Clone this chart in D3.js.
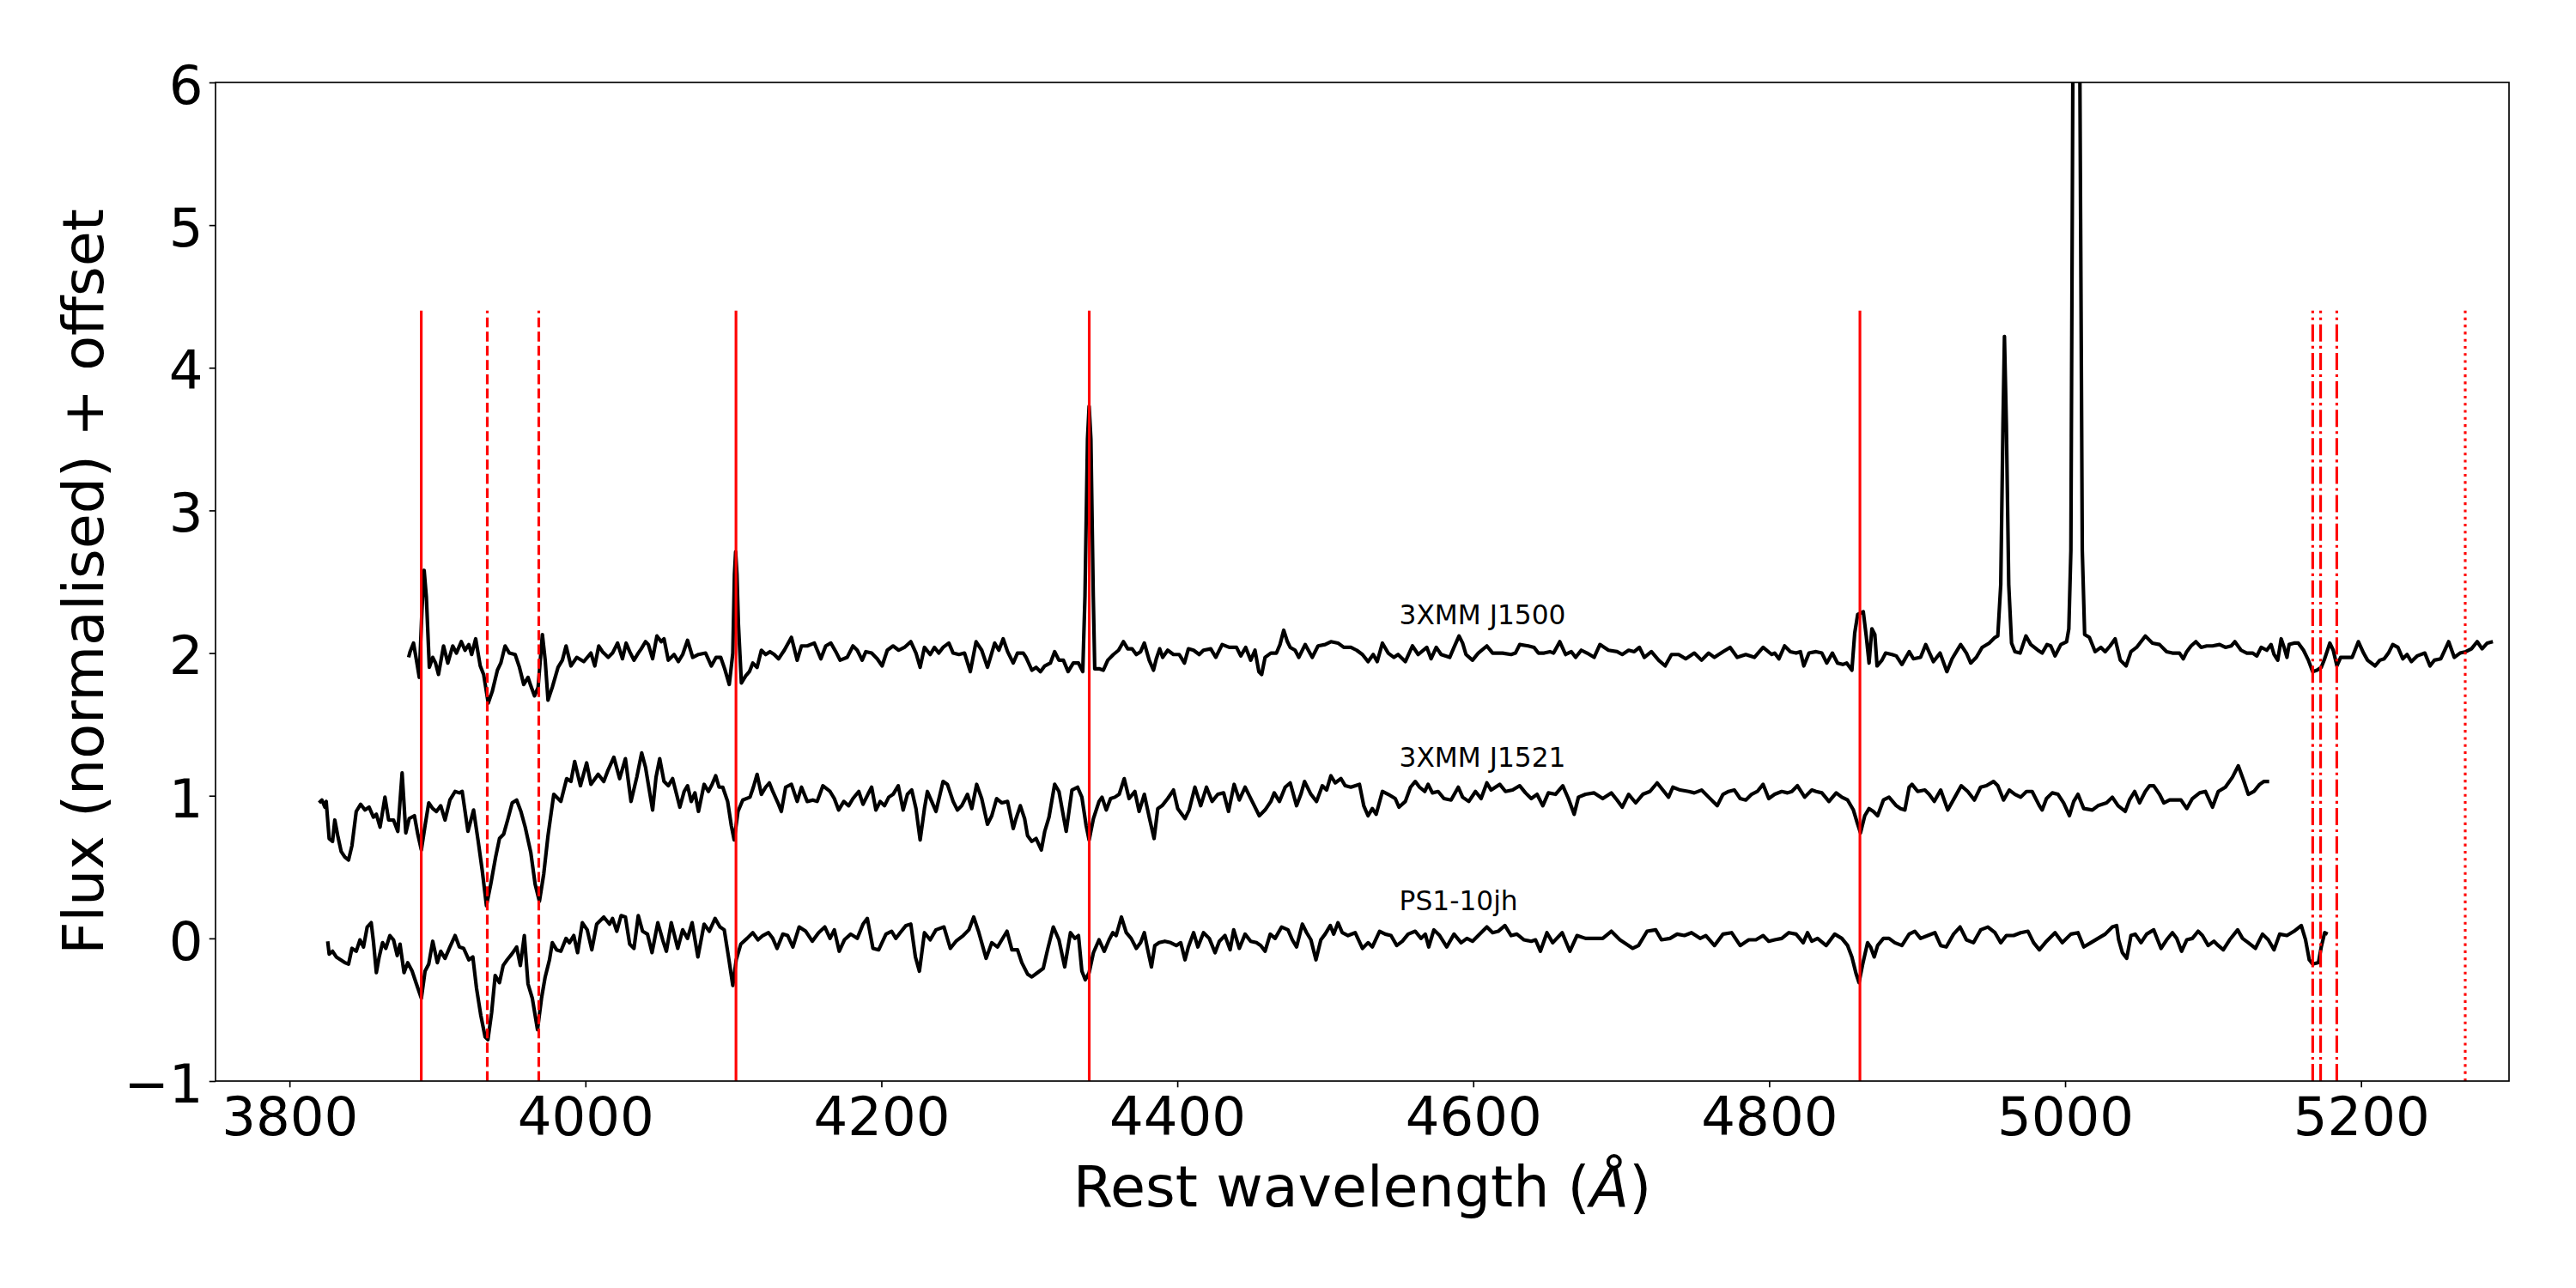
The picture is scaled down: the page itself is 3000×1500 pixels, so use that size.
<!DOCTYPE html>
<html>
<head>
<meta charset="utf-8">
<script src="https://cdn.jsdelivr.net/npm/d3@7"></script>
<style>
  body { margin: 0; background: #fff; }
  text { font-family: "DejaVu Sans", sans-serif; fill: #000; }
</style>
</head>
<body>
<div id="chart"></div>
<script>
// axis ticks
var xTicks = [3800, 4000, 4200, 4400, 4600, 4800, 5000, 5200];
var yTicks = [-1, 0, 1, 2, 3, 4, 5, 6];

// spectra names and offsets
var names = ["3XMM J1500", "3XMM J1521", "PS1-10jh"];
var offsets = [2, 1, 0];
var labelWave = 4550;

// marked absorption / emission lines (rest wavelength)
var lineWaves = [3889.05, 3933.66, 3968.47, 4101.74, 4340.47, 4861.33, 5167.32, 5172.68, 5183.6, 5270.4];
var lineKinds = ["solid", "dashed", "dashed", "solid", "solid", "solid", "dashdot", "dashdot", "dashdot", "dotted"];

// normalised flux: [wavelength, flux]
var j1500 = [[3880.5,-0.03],[3881.5,0.01],[3883.8,0.07],[3885.8,-0.05],[3887.7,-0.17],[3889.5,0.30],[3891.0,0.58],[3892.5,0.39],[3894.5,-0.10],[3896.8,-0.03],[3898.7,-0.07],[3900.7,-0.15],[3904.1,0.05],[3907.0,-0.07],[3910.3,0.05],[3912.8,0.00],[3916.1,0.08],[3918.6,0.02],[3921.2,0.06],[3923.1,-0.01],[3925.8,0.10],[3928.9,-0.09],[3931.2,-0.15],[3934.3,-0.35],[3937.0,-0.27],[3940.5,-0.12],[3942.8,-0.07],[3945.7,0.05],[3948.6,0.00],[3952.5,-0.01],[3955.4,-0.10],[3958.3,-0.22],[3961.2,-0.17],[3963.1,-0.23],[3965.6,-0.30],[3968.0,-0.24],[3970.9,0.13],[3972.8,-0.05],[3974.7,-0.33],[3977.6,-0.24],[3981.5,-0.10],[3984.4,-0.05],[3986.9,0.05],[3990.2,-0.09],[3994.1,-0.03],[3998.9,-0.06],[4003.7,0.00],[4006.3,-0.09],[4009.0,0.05],[4011.5,0.01],[4015.4,-0.03],[4018.3,0.00],[4021.7,0.07],[4025.0,-0.04],[4027.5,0.07],[4029.9,0.01],[4032.8,-0.05],
  [4035.7,0.00],[4037.7,0.03],[4040.6,0.08],[4042.5,0.06],[4045.4,-0.04],[4048.3,0.12],[4051.2,0.08],[4053.1,0.10],[4056.0,-0.05],[4059.9,-0.01],[4062.8,-0.06],[4065.7,-0.01],[4069.0,0.09],[4072.5,-0.03],[4076.4,-0.01],[4081.2,0.00],[4085.1,-0.09],[4088.3,-0.03],[4091.4,-0.03],[4094.1,-0.11],[4097.2,-0.22],[4099.6,0.00],[4100.7,0.55],[4101.5,0.71],[4102.4,0.55],[4103.4,0.20],[4105.4,-0.21],[4108.3,-0.16],[4110.8,-0.13],[4113.1,-0.07],[4116.0,-0.10],[4118.9,0.02],[4121.8,-0.01],[4124.7,0.01],[4127.6,-0.01],[4130.5,-0.04],[4134.4,0.02],[4139.2,0.11],[4143.1,-0.05],[4146.0,0.05],[4149.9,0.05],[4154.7,0.07],[4159.1,-0.04],[4162.4,0.05],[4165.9,0.07],[4169.2,0.01],[4172.1,-0.05],[4176.9,-0.03],[4180.8,0.05],[4183.7,0.02],[4187.0,-0.05],[4189.5,0.01],[4193.4,0.00],[4197.2,-0.04],[4200.5,-0.09],[4204.0,0.02],[4207.9,0.05],[4211.7,0.02],[4215.6,0.04],[4219.9,0.08],[4223.4,0.00],[4226.2,-0.10],[4229.1,0.04],[4233.0,-0.01],[4235.9,0.04],[4238.8,0.00],[4241.7,0.04],[4245.6,0.07],[4248.5,0.00],[4252.4,-0.01],[4256.2,0.00],[4260.1,-0.13],[4264.0,0.08],[4267.8,0.02],[4271.7,-0.10],[4276.6,0.07],[4279.4,0.02],[4282.3,0.10],[4285.3,0.01],[4289.1,-0.07],
  [4292.0,0.00],[4295.9,0.00],[4297.8,-0.03],[4301.7,-0.12],[4304.6,-0.10],[4307.5,-0.13],[4310.4,-0.09],[4314.2,-0.07],[4317.1,0.01],[4320.0,-0.05],[4323.0,-0.05],[4326.2,-0.13],[4329.7,-0.07],[4333.2,-0.07],[4336.1,-0.13],[4337.6,0.40],[4339.3,1.50],[4340.4,1.73],[4341.6,1.50],[4343.2,0.40],[4344.2,-0.11],[4347.1,-0.11],[4350.0,-0.12],[4353.0,-0.05],[4356.8,-0.01],[4360.3,0.02],[4363.6,0.08],[4366.5,0.03],[4369.4,0.03],[4372.3,-0.01],[4375.2,0.01],[4377.7,0.07],[4381.0,-0.05],[4383.9,-0.12],[4385.8,-0.04],[4388.1,0.03],[4390.1,-0.03],[4393.5,0.02],[4397.4,-0.01],[4401.3,-0.01],[4404.8,-0.07],[4407.5,0.03],[4411.0,0.02],[4414.8,-0.01],[4417.7,0.02],[4422.6,0.03],[4426.0,-0.03],[4430.3,0.06],[4435.1,0.04],[4440.0,0.04],[4442.9,-0.02],[4446.2,0.04],[4449.6,-0.05],[4452.5,0.02],[4455.1,-0.13],[4457.0,-0.15],[4459.3,-0.03],[4463.2,0.00],[4467.0,0.00],[4469.4,0.06],[4471.9,0.16],[4474.4,0.08],[4476.3,0.04],[4479.6,0.02],[4482.1,-0.03],[4486.4,0.06],[4491.2,-0.03],[4495.1,0.05],[4499.9,0.06],[4503.8,0.08],[4508.6,0.07],[4512.5,0.04],[4517.3,0.04],[4521.2,0.02],[4525.1,-0.01],[4528.9,-0.06],[4532.4,-0.01],[4535.1,-0.06],[4538.6,0.07],[4542.5,0.00],
  [4546.4,-0.03],[4549.2,-0.01],[4554.1,-0.06],[4558.9,0.05],[4562.8,-0.01],[4568.6,0.04],[4571.5,-0.04],[4575.0,0.04],[4578.3,-0.01],[4584.1,-0.03],[4587.0,0.04],[4590.4,0.12],[4592.8,0.07],[4595.1,-0.01],[4599.5,-0.05],[4603.4,0.00],[4609.2,0.05],[4613.1,0.00],[4619.8,0.00],[4625.6,-0.01],[4628.5,0.00],[4631.4,0.06],[4637.2,0.05],[4641.1,0.04],[4644.0,0.00],[4647.9,0.00],[4651.8,0.01],[4654.3,0.00],[4658.5,0.08],[4662.4,-0.01],[4666.3,0.01],[4669.2,-0.03],[4673.0,0.02],[4676.9,0.00],[4681.7,-0.03],[4685.6,0.06],[4691.4,0.02],[4697.2,0.01],[4700.7,-0.01],[4705.0,0.02],[4708.8,0.01],[4712.3,0.04],[4715.6,-0.03],[4720.4,0.01],[4725.3,-0.05],[4729.7,-0.09],[4734.0,-0.01],[4738.8,-0.01],[4743.6,-0.04],[4749.4,0.00],[4754.3,-0.05],[4759.1,0.00],[4763.0,-0.03],[4768.8,0.01],[4773.6,0.04],[4778.4,-0.03],[4784.2,-0.01],[4790.0,-0.03],[4795.9,0.04],[4801.7,-0.01],
  [4803.7,0.00],[4806.6,-0.04],[4810.4,0.05],[4814.3,0.01],[4818.2,0.00],[4821.1,0.01],[4823.4,-0.09],[4826.9,0.00],[4831.7,0.01],[4835.6,0.00],[4838.9,-0.07],[4842.7,0.00],[4846.2,-0.07],[4849.7,-0.08],[4852.4,-0.07],[4855.9,-0.12],[4857.8,0.14],[4859.8,0.27],[4863.6,0.29],[4865.6,0.12],[4867.5,-0.07],[4869.4,0.17],[4871.4,0.13],[4872.9,-0.09],[4876.2,-0.05],[4878.7,0.00],[4883.0,-0.01],[4885.9,-0.02],[4889.7,-0.08],[4894.6,0.01],[4897.5,-0.04],[4902.3,-0.03],[4905.8,0.06],[4911.0,-0.06],[4915.5,0.00],[4920.1,-0.13],[4923.6,-0.04],[4929.4,0.06],[4933.3,0.00],[4936.2,-0.07],[4940.0,-0.03],[4943.9,0.04],[4948.7,0.07],[4952.6,0.11],[4954.5,0.12],[4956.5,0.48],[4958.0,1.60],[4959.0,2.22],[4960.3,1.60],[4961.9,0.48],[4963.8,0.07],[4966.1,0.01],[4969.6,0.00],[4973.5,0.12],[4976.8,0.06],[4981.6,0.02],[4984.5,0.00],[4987.8,0.06],[4990.3,0.05],[4993.2,-0.02],[4997.1,0.06],[5001.0,0.08],[5002.5,0.17],[5003.9,0.72],[5005.2,4.00],[5007.5,7.00],[5010.0,4.00],[5011.6,0.72],[5013.2,0.13],[5016.4,0.11],[5020.3,0.01],[5024.2,0.04],[5027.1,0.01],[5030.4,0.05],[5033.8,0.10],[5037.3,-0.05],[5041.2,-0.09],[5044.5,0.01],[5048.3,0.04],[5051.3,0.08],[5054.2,0.12],
  [5059.0,0.07],[5063.8,0.06],[5068.6,0.01],[5072.5,0.00],[5077.3,0.00],[5079.9,-0.04],[5082.2,0.01],[5085.1,0.05],[5088.4,0.08],[5091.9,0.04],[5095.7,0.05],[5099.6,0.05],[5104.4,0.06],[5108.3,0.04],[5112.2,0.05],[5114.7,0.08],[5118.9,0.02],[5122.8,0.00],[5126.7,0.00],[5129.6,-0.02],[5132.5,0.04],[5136.3,0.02],[5139.2,0.06],[5141.2,-0.01],[5143.7,-0.05],[5146.0,0.10],[5148.0,0.04],[5149.9,-0.03],[5151.4,0.06],[5154.7,0.07],[5157.6,0.07],[5161.1,0.02],[5164.4,-0.05],[5167.3,-0.13],[5170.2,-0.12],[5173.1,-0.10],[5175.4,-0.04],[5178.9,0.07],[5181.2,0.02],[5183.7,-0.09],[5186.2,-0.03],[5190.5,-0.03],[5194.0,-0.03],[5198.2,0.08],[5201.7,0.00],[5204.4,-0.05],[5209.5,-0.09],[5212.7,-0.05],[5215.6,-0.04],[5218.5,0.00],[5221.4,0.06],[5224.9,0.04],[5228.2,-0.04],[5231.1,-0.01],[5234.0,-0.06],[5237.9,-0.02],[5243.1,0.00],[5246.6,-0.09],[5249.5,-0.05],[5253.9,-0.04],[5259.2,0.08],[5263.0,-0.03],[5266.9,0.00],[5270.8,0.01],[5274.6,0.03],[5278.5,0.08],[5281.8,0.03],[5285.3,0.07],[5289.1,0.08]];

var j1521 = [[3820.0,-0.05],[3821.9,-0.03],[3823.9,-0.08],[3824.8,-0.04],[3826.8,-0.30],[3829.1,-0.32],[3830.6,-0.17],[3832.6,-0.28],[3834.9,-0.39],[3837.4,-0.43],[3839.9,-0.45],[3842.2,-0.35],[3845.1,-0.11],[3848.1,-0.06],[3851.0,-0.10],[3853.8,-0.08],[3856.7,-0.15],[3858.7,-0.13],[3861.2,-0.22],[3864.5,-0.01],[3867.0,-0.17],[3870.3,-0.17],[3873.2,-0.25],[3876.1,0.16],[3878.6,-0.26],[3880.9,-0.16],[3884.4,-0.14],[3886.7,-0.27],[3889.1,-0.38],[3891.6,-0.21],[3894.1,-0.05],[3896.8,-0.09],[3899.3,-0.11],[3902.2,-0.07],[3905.1,-0.17],[3908.4,-0.03],[3911.9,0.03],[3914.8,0.02],[3916.7,0.03],[3920.6,-0.25],[3924.4,-0.10],[3927.4,-0.31],[3930.2,-0.52],[3933.1,-0.77],[3936.0,-0.62],[3939.3,-0.43],[3941.9,-0.30],[3944.7,-0.27],[3947.7,-0.16],[3950.5,-0.05],[3953.5,-0.03],[3956.4,-0.11],[3959.3,-0.22],[3963.1,-0.40],[3966.0,-0.62],[3968.9,-0.74],[3971.8,-0.55],[3974.7,-0.28],[3978.6,0.01],[3981.5,-0.02],[3983.4,-0.04],[3987.3,0.12],[3990.2,0.10],[3992.7,0.24],[3996.6,0.07],[4000.8,0.23],[4003.7,0.08],[4008.6,0.15],[4012.4,0.10],[4015.3,0.18],[4019.2,0.27],[4023.1,0.12],[4027.0,0.26],[4030.8,-0.04],[4034.7,0.13],[4038.0,0.30],
  [4040.6,0.20],[4042.5,0.08],[4045.4,-0.10],[4047.7,0.13],[4050.2,0.26],[4053.1,0.10],[4056.0,0.07],[4058.9,0.12],[4063.8,-0.08],[4066.7,0.03],[4069.0,0.07],[4071.5,-0.04],[4074.0,0.02],[4076.4,-0.11],[4080.2,0.08],[4083.1,0.03],[4085.6,0.08],[4088.0,0.14],[4090.3,0.06],[4092.8,0.06],[4096.1,-0.04],[4098.6,-0.21],[4100.5,-0.31],[4103.1,-0.11],[4106.3,-0.03],[4111.2,-0.01],[4113.5,0.06],[4116.0,0.15],[4118.9,0.01],[4121.8,0.06],[4124.3,0.09],[4126.6,0.03],[4130.1,-0.05],[4132.4,-0.11],[4135.3,0.06],[4139.2,0.08],[4143.1,-0.04],[4146.0,0.06],[4149.9,-0.04],[4153.7,-0.03],[4156.6,-0.04],[4160.5,0.07],[4165.3,0.03],[4168.2,-0.02],[4171.1,-0.10],[4174.6,-0.04],[4177.9,-0.07],[4180.8,-0.02],[4184.7,0.03],[4187.6,-0.06],[4190.9,0.01],[4193.4,0.06],[4196.3,-0.10],[4199.2,-0.04],[4202.1,-0.07],[4205.0,-0.01],[4207.9,0.01],[4211.4,0.07],[4214.7,-0.10],[4217.6,0.01],[4220.5,0.04],[4223.4,-0.09],[4226.2,-0.31],[4229.1,-0.09],[4231.1,0.03],[4234.0,-0.04],[4236.9,-0.11],[4241.7,0.10],[4244.6,0.08],[4248.5,-0.04],[4251.4,-0.10],[4254.3,-0.07],[4258.2,0.01],[4261.1,-0.09],[4264.4,0.08],[4267.8,-0.02],[4271.7,-0.20],[4274.6,-0.14],[4277.9,-0.02],[4281.4,-0.05],[4285.3,-0.04],[4289.1,-0.23],
  [4291.0,-0.16],[4293.9,-0.07],[4296.8,-0.16],[4298.8,-0.28],[4301.7,-0.32],[4304.6,-0.30],[4308.1,-0.38],[4310.4,-0.25],[4313.3,-0.15],[4317.1,0.08],[4320.0,0.03],[4324.9,-0.25],[4328.8,0.04],[4332.6,0.06],[4335.5,-0.01],[4338.4,-0.21],[4340.4,-0.31],[4343.3,-0.16],[4347.1,-0.04],[4349.1,-0.01],[4352.0,-0.10],[4354.9,-0.02],[4357.8,-0.01],[4360.7,0.01],[4364.1,0.12],[4367.4,-0.02],[4371.3,0.03],[4374.2,-0.11],[4377.7,0.01],[4381.0,-0.15],[4384.3,-0.30],[4386.8,-0.09],[4389.7,-0.07],[4393.5,-0.02],[4397.4,0.04],[4400.3,-0.09],[4405.2,-0.16],[4408.0,-0.10],[4411.9,0.06],[4415.8,-0.07],[4419.7,0.06],[4423.5,-0.04],[4427.4,0.01],[4431.3,0.02],[4434.6,-0.11],[4438.4,0.08],[4441.9,-0.03],[4445.8,0.06],[4450.6,-0.04],[4455.4,-0.14],[4459.3,-0.10],[4463.2,-0.04],[4465.5,0.02],[4469.0,-0.04],[4472.9,0.06],[4476.3,0.09],[4480.6,-0.07],[4483.5,0.01],[4486.0,0.10],[4490.3,0.01],[4494.1,-0.04],[4498.0,0.07],[4500.9,0.04],[4503.8,0.14],[4506.7,0.09],[4510.6,0.12],[4513.5,0.07],[4517.3,0.06],[4523.1,0.08],[4526.0,-0.07],[4528.9,-0.14],[4531.8,-0.09],[4534.4,-0.13],[4538.6,0.03],[4542.5,0.01],
  [4547.3,-0.02],[4549.8,-0.08],[4554.1,-0.04],[4557.6,0.06],[4560.8,0.10],[4563.7,0.06],[4567.2,0.03],[4569.5,0.08],[4572.4,0.02],[4576.3,0.03],[4580.2,-0.02],[4585.0,-0.03],[4589.9,0.06],[4592.8,-0.01],[4597.0,-0.04],[4601.5,0.03],[4605.3,-0.02],[4609.2,0.09],[4612.1,0.04],[4617.9,0.08],[4621.8,0.03],[4626.6,0.04],[4631.4,0.07],[4635.3,0.02],[4639.2,-0.02],[4643.1,0.01],[4647.0,-0.07],[4650.8,0.02],[4655.6,0.01],[4660.5,0.07],[4664.3,-0.02],[4668.2,-0.13],[4671.1,-0.01],[4675.9,0.01],[4681.7,0.02],[4687.5,-0.02],[4693.3,0.02],[4697.2,-0.03],[4700.7,-0.08],[4705.0,0.01],[4709.8,-0.05],[4714.6,0.01],[4719.4,0.03],[4724.3,0.09],[4728.1,0.04],[4732.0,-0.01],[4734.9,0.06],[4739.8,0.04],[4745.6,0.03],[4749.4,0.02],[4754.3,0.04],[4759.1,-0.01],[4764.9,-0.07],[4768.8,0.01],[4772.6,0.03],[4776.5,0.04],[4780.4,-0.02],[4784.2,-0.03],[4788.1,0.01],[4792.0,0.03],[4795.9,0.08],[4799.7,-0.02],
  [4803.7,0.01],[4808.5,0.03],[4812.4,0.02],[4815.3,0.03],[4819.1,0.07],[4824.0,-0.01],[4828.8,0.04],[4831.7,0.03],[4835.6,0.02],[4840.4,-0.04],[4845.3,0.02],[4849.1,-0.01],[4853.0,-0.03],[4856.9,-0.10],[4859.8,-0.20],[4861.7,-0.26],[4864.6,-0.14],[4867.5,-0.09],[4870.4,-0.11],[4873.3,-0.14],[4877.2,-0.03],[4881.0,-0.01],[4885.9,-0.07],[4888.8,-0.09],[4891.7,-0.10],[4894.6,0.06],[4896.5,0.08],[4900.4,0.03],[4905.2,0.04],[4908.1,0.01],[4911.6,-0.04],[4915.9,0.04],[4920.7,-0.10],[4925.5,-0.01],[4929.8,0.07],[4934.2,0.03],[4938.7,-0.03],[4942.9,0.06],[4946.8,0.07],[4951.6,0.10],[4954.5,0.07],[4958.4,-0.03],[4962.3,0.04],[4966.1,0.01],[4970.0,-0.01],[4973.9,0.03],[4977.7,0.03],[4982.6,-0.07],[4984.5,-0.10],[4987.4,-0.02],[4991.3,0.02],[4995.2,0.01],[4999.0,-0.05],[5002.9,-0.14],[5005.8,-0.04],[5008.7,0.01],[5012.6,-0.09],[5018.4,-0.10],[5022.2,-0.07],[5028.0,-0.05],[5031.9,-0.01],[5035.8,-0.07],[5040.6,-0.11],[5043.5,-0.03],[5047.0,0.03],[5050.3,-0.05],[5054.2,0.03],
  [5057.1,0.07],[5059.9,0.07],[5063.8,0.01],[5066.7,-0.05],[5070.6,-0.03],[5074.4,-0.03],[5078.3,-0.03],[5082.2,-0.09],[5086.0,-0.02],[5090.9,0.02],[5094.8,0.03],[5099.6,-0.08],[5103.5,0.03],[5108.3,0.06],[5113.1,0.13],[5117.0,0.21],[5120.9,0.10],[5123.8,0.01],[5127.6,0.03],[5131.5,0.08],[5134.4,0.10],[5137.9,0.10]];

var ps1 = [[3825.8,-0.02],[3826.8,-0.11],[3829.1,-0.09],[3831.6,-0.13],[3834.5,-0.15],[3837.4,-0.17],[3839.9,-0.18],[3842.2,-0.07],[3845.1,-0.09],[3847.6,-0.01],[3850.0,-0.06],[3852.5,0.08],[3855.2,0.11],[3856.7,-0.02],[3858.7,-0.24],[3860.6,-0.13],[3862.9,-0.03],[3865.1,-0.07],[3867.8,0.02],[3870.3,-0.01],[3872.8,-0.12],[3874.7,-0.04],[3877.4,-0.24],[3879.9,-0.17],[3882.9,-0.23],[3885.8,-0.32],[3889.1,-0.42],[3891.6,-0.23],[3894.1,-0.18],[3896.8,-0.02],[3899.9,-0.17],[3902.2,-0.09],[3905.1,-0.14],[3908.4,-0.06],[3911.9,0.02],[3914.8,-0.06],[3917.7,-0.07],[3921.2,-0.15],[3923.9,-0.13],[3926.4,-0.35],[3929.3,-0.54],[3932.2,-0.69],[3934.1,-0.71],[3936.6,-0.52],[3939.0,-0.26],[3941.9,-0.31],[3944.4,-0.19],[3947.1,-0.15],[3950.2,-0.11],[3953.5,-0.06],[3956.0,-0.19],[3958.7,0.02],[3961.2,-0.32],[3964.1,-0.42],[3967.6,-0.64],[3970.3,-0.42],[3972.8,-0.27],[3975.7,-0.15],[3977.6,-0.03],[3980.5,-0.08],[3983.4,-0.09],[3986.9,0.00],[3989.2,-0.03],[3992.1,0.02],[3994.7,-0.10],[3997.9,0.11],[4001.2,0.06],[4004.3,-0.08],[4007.6,0.10],[4012.4,0.15],[4016.3,0.10],[4018.3,0.14],[4021.2,0.05],[4024.1,0.16],[4027.0,0.15],[4029.9,-0.04],[4032.8,-0.07],[4035.7,0.16],
  [4038.6,0.05],[4041.9,0.03],[4045.0,-0.10],[4048.9,0.11],[4052.2,-0.01],[4054.7,-0.09],[4058.0,0.11],[4062.4,-0.07],[4065.7,0.06],[4069.0,0.00],[4072.1,0.11],[4076.0,-0.13],[4080.2,0.10],[4083.7,0.05],[4087.6,0.14],[4090.9,0.08],[4093.8,0.06],[4096.7,-0.13],[4099.6,-0.33],[4101.9,-0.15],[4105.0,-0.04],[4109.2,0.00],[4113.1,0.04],[4116.6,-0.01],[4119.9,0.02],[4123.7,0.04],[4126.6,0.00],[4129.5,-0.07],[4133.4,0.03],[4136.7,0.02],[4140.2,-0.06],[4144.4,0.08],[4148.9,0.05],[4153.3,-0.02],[4157.6,0.04],[4161.8,0.08],[4165.3,0.00],[4168.2,0.06],[4171.5,-0.09],[4175.0,-0.01],[4179.3,0.03],[4183.7,0.00],[4187.6,0.10],[4190.5,0.14],[4194.3,-0.07],[4198.2,-0.08],[4203.1,0.03],[4206.9,0.05],[4209.8,0.00],[4212.7,0.04],[4216.6,0.09],[4219.9,0.10],[4223.0,-0.13],[4225.7,-0.23],[4229.1,0.04],[4233.0,-0.01],[4236.9,0.06],[4242.3,0.08],[4246.6,-0.07],[4250.4,-0.02],[4255.3,0.02],[4259.1,0.06],[4262.4,0.15],[4265.9,0.04],[4270.8,-0.14],[4274.6,-0.03],[4278.5,-0.06],[4281.4,-0.01],[4284.9,0.05],[4288.2,-0.08],
  [4292.0,-0.08],[4294.9,-0.17],[4298.8,-0.25],[4301.7,-0.27],[4305.5,-0.24],[4309.4,-0.21],[4312.3,-0.08],[4316.2,0.08],[4320.0,-0.01],[4323.9,-0.20],[4327.8,0.04],[4330.7,0.00],[4333.2,0.02],[4335.5,-0.23],[4337.8,-0.29],[4340.4,-0.24],[4343.3,-0.10],[4347.1,-0.01],[4350.6,-0.09],[4353.9,-0.01],[4356.4,0.04],[4358.7,0.02],[4362.2,0.15],[4365.5,0.04],[4368.8,0.00],[4372.3,-0.07],[4375.2,-0.03],[4377.7,0.04],[4380.0,-0.08],[4382.5,-0.20],[4384.8,-0.05],[4387.7,-0.03],[4391.6,-0.02],[4395.5,-0.03],[4399.3,-0.05],[4402.3,-0.03],[4405.2,-0.15],[4407.5,-0.06],[4411.0,0.04],[4413.9,-0.06],[4417.7,0.04],[4421.6,0.00],[4425.5,-0.10],[4428.4,-0.02],[4432.2,0.02],[4435.7,-0.08],[4438.1,0.06],[4441.9,-0.07],[4445.8,0.03],[4449.6,-0.02],[4453.5,-0.03],[4456.4,-0.05],[4459.3,-0.09],[4462.8,0.03],[4466.1,0.00],[4470.5,0.08],[4474.8,0.06],[4477.7,-0.01],[4480.6,-0.06],[4484.5,0.10],[4487.4,0.04],[4490.3,-0.01],[4493.7,-0.15],[4497.0,-0.01],[4499.9,0.03],[4503.4,0.09],[4505.7,0.03],[4508.6,0.11],[4511.5,0.04],[4515.4,0.02],[4520.2,0.04],[4525.1,-0.07],[4528.9,-0.03],[4531.8,-0.06],[4536.7,0.05],[4540.5,0.03],[4544.4,0.02],
  [4548.3,-0.05],[4552.1,-0.02],[4556.0,0.03],[4560.8,0.05],[4564.7,0.00],[4567.6,0.03],[4569.9,-0.06],[4573.4,0.06],[4577.3,0.02],[4582.1,-0.06],[4587.0,0.03],[4591.8,-0.03],[4595.7,0.00],[4599.5,-0.02],[4603.4,0.02],[4609.2,0.08],[4613.1,0.04],[4616.9,0.05],[4621.4,0.09],[4625.6,0.02],[4629.5,0.03],[4634.3,-0.01],[4639.2,-0.02],[4642.1,-0.01],[4645.4,-0.09],[4649.8,0.04],[4653.7,-0.03],[4660.1,0.04],[4665.3,-0.09],[4670.1,0.02],[4675.9,0.00],[4681.7,0.00],[4687.5,0.00],[4693.3,0.05],[4699.1,-0.01],[4705.0,-0.05],[4707.8,-0.07],[4711.7,-0.05],[4717.5,0.05],[4723.3,0.06],[4727.2,-0.01],[4733.0,0.00],[4737.8,0.03],[4742.7,0.02],[4747.5,0.04],[4753.3,0.00],[4757.2,0.02],[4763.0,-0.05],[4768.8,0.03],[4774.6,0.04],[4780.4,-0.05],[4786.2,-0.01],[4791.0,-0.01],[4795.9,0.02],[4799.7,-0.02],
  [4803.7,-0.01],[4808.5,0.00],[4813.3,0.04],[4818.2,0.03],[4823.0,-0.03],[4825.9,0.04],[4828.8,-0.02],[4832.7,0.00],[4838.5,-0.05],[4844.3,0.03],[4849.1,0.00],[4853.0,-0.05],[4855.9,-0.13],[4858.8,-0.25],[4860.7,-0.31],[4863.2,-0.18],[4866.5,-0.03],[4868.5,-0.06],[4871.0,-0.13],[4873.3,-0.05],[4877.2,0.00],[4881.0,0.00],[4884.9,-0.03],[4889.7,-0.05],[4894.6,0.03],[4898.4,0.05],[4902.3,0.00],[4907.2,0.02],[4912.0,0.04],[4915.9,-0.05],[4919.7,-0.06],[4924.6,0.03],[4929.0,0.08],[4933.3,-0.01],[4938.1,-0.03],[4942.9,0.06],[4947.8,0.08],[4952.6,0.04],[4956.5,-0.03],[4960.3,0.02],[4965.2,0.02],[4970.0,0.04],[4974.9,0.05],[4978.7,-0.03],[4982.6,-0.08],[4987.4,-0.02],[4993.2,0.04],[4998.1,-0.03],[5003.9,0.03],[5008.7,0.04],[5012.6,-0.06],[5017.4,-0.03],[5022.2,0.00],[5027.1,0.03],[5031.9,0.08],[5034.8,0.09],[5036.2,-0.01],[5038.7,-0.10],[5041.6,-0.14],[5044.5,0.02],[5047.4,0.03],[5051.3,-0.03],[5055.1,0.03],
  [5059.9,0.06],[5064.8,-0.07],[5068.6,-0.01],[5072.5,0.04],[5075.4,0.00],[5078.7,-0.09],[5082.2,-0.01],[5086.0,0.00],[5089.9,0.05],[5092.8,0.02],[5096.7,-0.05],[5100.6,-0.02],[5103.5,-0.05],[5106.9,-0.08],[5111.2,-0.01],[5116.6,0.06],[5119.9,0.00],[5123.8,-0.03],[5128.6,-0.07],[5133.4,0.03],[5137.3,-0.01],[5141.2,-0.08],[5145.0,0.03],[5149.9,0.02],[5154.7,0.05],[5159.6,0.09],[5162.5,-0.01],[5165.0,-0.15],[5167.3,-0.18],[5171.2,-0.17],[5173.1,-0.06],[5175.4,0.04],[5177.4,0.03]];

var spectra = [j1500, j1521, ps1];

// figure geometry
var width = 3000, height = 1500;
var m = { left: 251, right: 78, top: 96, bottom: 241 };
var w = width - m.left - m.right;
var h = height - m.top - m.bottom;

// px per point at 150 dpi
var pt = 150 / 72;
var tickFont = 30 * pt, labelFont = 32 * pt, nameFont = 15 * pt;
var redWidth = 1.5 * pt;
var dashes = {
	solid: null,
	dashed: [3.7 * redWidth, 1.6 * redWidth].join(","),
	dashdot: [6.4 * redWidth, 1.6 * redWidth, 1 * redWidth, 1.6 * redWidth].join(","),
	dotted: [1 * redWidth, 1.65 * redWidth].join(",")
};

var x = d3.scaleLinear().domain([3750, 5300]).range([0, w]);
var y = d3.scaleLinear().domain([-1, 6]).range([h, 0]);

var svg = d3.select("#chart").append("svg")
	.attr("width", width)
	.attr("height", height);

svg.append("rect")
	.attr("width", width)
	.attr("height", height)
	.attr("fill", "#fff");

var plot = svg.append("g")
	.attr("transform", "translate(" + m.left + "," + m.top + ")");

// clip for the [OIII] line that leaves the frame
svg.append("defs").append("clipPath")
	.attr("id", "clip")
	.append("rect")
	.attr("width", w)
	.attr("height", h);

var inner = plot.append("g").attr("clip-path", "url(#clip)");

// spectra
var line = d3.line()
	.x(function(d) { return x(d[0]); })
	.y(function(d) { return y(d[1]); });

spectra.forEach(function(s, i) {
	inner.append("path")
		.datum(s.map(function(d) { return [d[0], d[1] + offsets[i]]; }))
		.attr("d", line)
		.attr("fill", "none")
		.attr("stroke", "#000")
		.attr("stroke-width", 2 * pt)
		.attr("stroke-linejoin", "round");
});

// red line markers
inner.selectAll(".marker")
	.data(lineWaves)
	.enter().append("line")
	.attr("class", "marker")
	.attr("x1", function(d) { return x(d); })
	.attr("x2", function(d) { return x(d); })
	.attr("y1", y(-1))
	.attr("y2", y(4.4))
	.attr("stroke", "#ff0000")
	.attr("stroke-width", redWidth)
	.attr("stroke-dasharray", function(d, i) { return dashes[lineKinds[i]]; });

// spectrum names
plot.selectAll(".name")
	.data(names)
	.enter().append("text")
	.attr("class", "name")
	.attr("x", x(labelWave))
	.attr("y", function(d, i) { return y(offsets[i] + 0.2); })
	.attr("font-size", nameFont)
	.text(function(d) { return d; });

// axes
var xAxis = plot.append("g")
	.attr("transform", "translate(0," + h + ")")
	.call(d3.axisBottom(x).tickValues(xTicks).tickSize(3.5 * pt).tickPadding(3.5 * pt).tickFormat(d3.format("d")));

var yAxis = plot.append("g")
	.call(d3.axisLeft(y).tickValues(yTicks).tickSize(3.5 * pt).tickPadding(3.5 * pt).tickFormat(d3.format("d")));

[xAxis, yAxis].forEach(function(a) {
	a.select(".domain").remove();
	a.selectAll(".tick line").attr("stroke", "#000").attr("stroke-width", 0.8 * pt);
	a.selectAll(".tick text")
		.attr("font-size", tickFont)
		.attr("font-family", "DejaVu Sans")
		.attr("fill", "#000");
});
xAxis.selectAll(".tick text").attr("dy", "0.77em");
yAxis.selectAll(".tick text").attr("dy", "0.39em");

// frame
plot.append("rect")
	.attr("width", w)
	.attr("height", h)
	.attr("fill", "none")
	.attr("stroke", "#000")
	.attr("stroke-width", 0.8 * pt);

// axis labels
var xLabel = svg.append("text")
	.attr("x", m.left + w / 2)
	.attr("y", 1405)
	.attr("text-anchor", "middle")
	.attr("font-size", labelFont);
xLabel.append("tspan").text("Rest wavelength (");
xLabel.append("tspan").attr("font-style", "italic").text("Å");
xLabel.append("tspan").text(")");

svg.append("text")
	.attr("transform", "translate(120," + (m.top + h / 2) + ") rotate(-90)")
	.attr("text-anchor", "middle")
	.attr("font-size", labelFont)
	.text("Flux (normalised) + offset");
</script>
</body>
</html>
